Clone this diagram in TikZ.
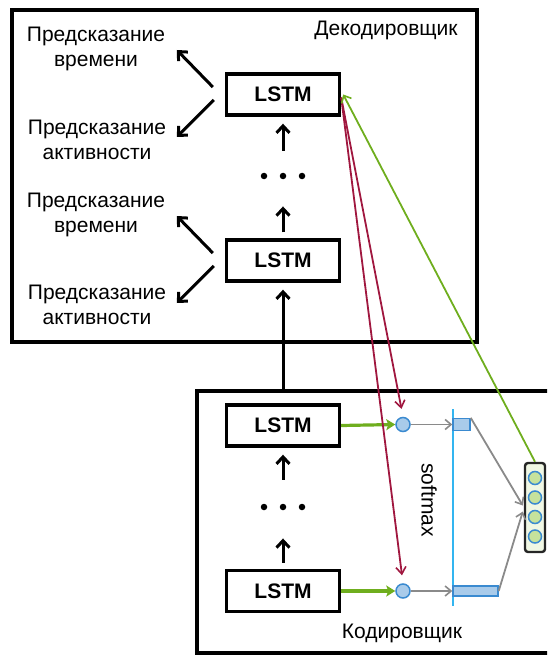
\documentclass[tikz,border=0pt]{standalone}
\usepackage{fontspec}
\setmainfont{Liberation Sans}
\usetikzlibrary{arrows.meta,calc}

\definecolor{arrowgreen}{HTML}{6FAE1E}
\definecolor{attnred}{HTML}{A0173F}
\definecolor{cellblue}{HTML}{A9CBEA}
\definecolor{edgeblue}{HTML}{3A8AD0}
\definecolor{softcyan}{HTML}{33B5F0}
\definecolor{flowgray}{HTML}{8A8A8A}
\definecolor{vecfill}{HTML}{F0F7E4}
\definecolor{vecdot}{HTML}{C6E29C}

\begin{document}
\begin{tikzpicture}[x=1pt,y=-1pt,
  lstm/.style={draw, line width=3.4pt, minimum width=113pt, minimum height=41pt,
    inner sep=0pt, font=\fontsize{21}{24}\selectfont\bfseries},
  pred/.style={align=center, inner sep=0pt, font=\fontsize{21}{25}\selectfont},
  title/.style={inner sep=0pt, font=\fontsize{21}{24}\selectfont},
  frame/.style={draw, line width=3.4pt},
  blk/.style={line width=3pt, -{Straight Barb[length=7pt,width=13pt,line width=3pt]}},
  dot/.style={circle, fill=black, minimum size=6.5pt, inner sep=0pt},
  gthick/.style={arrowgreen, line width=3.2pt, -{Stealth[length=9pt,width=11pt,inset=2pt]}},
  gthin/.style={arrowgreen, line width=1.8pt, -{Straight Barb[length=6pt,width=11pt,line width=1.6pt]}},
  redarr/.style={attnred, line width=1.8pt, -{Straight Barb[length=7pt,width=10pt,line width=1.6pt]}},
  grayarr/.style={flowgray, line width=1.8pt, -{Straight Barb[length=6pt,width=10pt,line width=1.6pt]}},
  ctx/.style={circle, draw=edgeblue, fill=cellblue, line width=1.5pt, minimum size=14pt, inner sep=0pt},
  bar/.style={draw=edgeblue, fill=cellblue, line width=1.4pt, inner sep=0pt},
  vdot/.style={circle, draw=edgeblue, fill=vecdot, line width=1.5pt, minimum size=13pt, inner sep=0pt}
]
\clip (0,0) rectangle (547,655);

% outer frames
\draw[frame] (12,10) rectangle (477,342);
\draw[frame] (197,391) rectangle (580,653);
\node[title] (dectitle) at (386,30) {Декодировщик};
\node[title] (enctitle) at (402,633) {Кодировщик};

% decoder stack
\node[lstm] (dA) at (283,94.5) {LSTM};
\node[lstm] (dB) at (283,260.5) {LSTM};
\node[dot] (dd1) at (264,176) {};
\node[dot] (dd2) at (283,176) {};
\node[dot] (dd3) at (302,176) {};
\draw[blk, shorten <=22pt, shorten >=7pt] (dd2) -- (dA.south);
\draw[blk, shorten <=6pt, shorten >=27pt] (dB.north) -- (dd2);

% predictions
\node[pred] (pA) at (96,48.5) {Предсказание\\времени};
\node[pred] (pB) at (97,139.5) {Предсказание\\активности};
\node[pred] (pC) at (96,215) {Предсказание\\времени};
\node[pred] (pD) at (97,305) {Предсказание\\активности};

\coordinate (sA1) at ($(dA.west)+(-12,-7.5)$);
\coordinate (sA2) at ($(dA.west)+(-11,5.5)$);
\coordinate (tA1) at ($(dA.west)+(-48,-44.5)$);
\coordinate (tA2) at ($(dA.west)+(-48,42.5)$);
\coordinate (sB1) at ($(dB.west)+(-12,-7.5)$);
\coordinate (sB2) at ($(dB.west)+(-11,5.5)$);
\coordinate (tB1) at ($(dB.west)+(-48,-44.5)$);
\coordinate (tB2) at ($(dB.west)+(-48,42.5)$);
\draw[blk] (sA1) -- (tA1);
\draw[blk] (sA2) -- (tA2);
\draw[blk] (sB1) -- (tB1);
\draw[blk] (sB2) -- (tB2);

% encoder stack
\node[lstm] (eA) at (283,425.5) {LSTM};
\node[lstm] (eB) at (283,591) {LSTM};
\node[dot] (ed1) at (264,507) {};
\node[dot] (ed2) at (283,507) {};
\node[dot] (ed3) at (302,507) {};
\draw[blk, shorten <=24pt, shorten >=7pt] (ed2) -- (eA.south);
\draw[blk, shorten <=6pt, shorten >=28pt] (eB.north) -- (ed2);

% encoder output into decoder
\coordinate (encTop) at (283,391);
\draw[blk, shorten >=7pt] (encTop) -- (dB.south);

% attention block
\node[ctx] (cA) at (403,424.5) {};
\node[ctx] (cB) at (403,591) {};
\draw[gthick] (eA.east) -- (cA.west);
\draw[gthick] (eB.east) -- (cB.west);

\coordinate (smTop) at (453,409);
\coordinate (smBot) at (453,606);
\draw[softcyan, line width=1.8pt] (smTop) -- (smBot);
\node[font=\fontsize{21}{24}\selectfont, rotate=-90, inner sep=0pt] (smx) at (429,500) {softmax};

\node[bar, minimum width=17pt, minimum height=12pt] (bA) at (461.5,424.5) {};
\node[bar, minimum width=45pt, minimum height=10pt] (bB) at (475.5,591) {};
\draw[grayarr] (cA.east) -- (bA.west);
\draw[grayarr] (cB.east) -- (bB.west);

% context vector
\node[draw=black!85, fill=vecfill, line width=2.4pt, rounded corners=3pt,
  minimum width=20pt, minimum height=89pt, inner sep=0pt] (vec) at (535,507.5) {};
\node[vdot] (v1) at (535,478) {};
\node[vdot] (v2) at (535,497.5) {};
\node[vdot] (v3) at (535,517) {};
\node[vdot] (v4) at (535,536.5) {};
\coordinate (vin1) at ($(vec.west)+(-1,-2)$);
\coordinate (vin2) at ($(vec.west)+(-1,4)$);
\draw[grayarr] (bA.north east) -- (vin1);
\draw[grayarr] (bB.east) -- (vin2);

% attention connections
\coordinate (dOut) at ($(dA.east)+(0,3)$);
\draw[redarr, shorten >=8pt] (dOut) -- (cA.north);
\draw[redarr, shorten >=8pt] (dOut) -- (cB.north);
\draw[gthin] (vec.north) -- ($(dA.east)+(2,0)$);
\end{tikzpicture}
\end{document}
